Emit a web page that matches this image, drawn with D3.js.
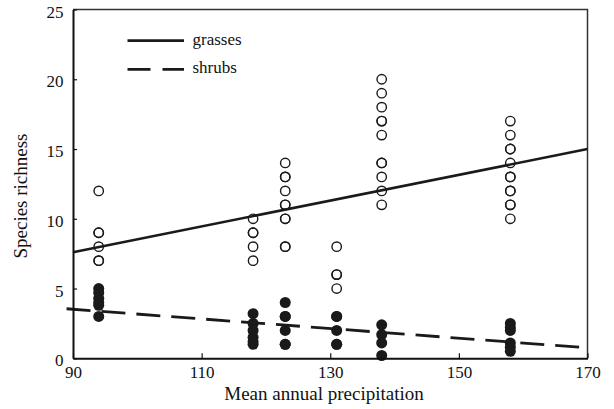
<!DOCTYPE html>
<html>
<head>
<meta charset="utf-8">
<script src="https://cdn.jsdelivr.net/npm/d3@7"></script>
<style>
  body { margin: 0; background: #fff; }
  svg { display: block; }
  svg text { font-family: "Liberation Serif", "Times New Roman", serif; }
</style>
</head>
<body>
<div id="chart"></div>
<script>
// precipitation sites (x) and richness values per site
const precip = [94, 118, 123, 131, 138, 158];
const grasses = [
    [12, 9, 9, 8, 7, 7],
    [10, 9, 9, 8, 7],
    [14, 13, 13, 12, 11, 11, 10, 10, 8, 8],
    [8, 6, 6, 5],
    [20, 19, 18, 17, 17, 16, 14, 14, 13, 12, 11],
    [17, 16, 15, 15, 14, 13, 13, 12, 12, 11, 11, 10]
];
const shrubs = [
    [5, 4.7, 4.3, 4, 3.8, 3],
    [3.2, 2.5, 2, 1.5, 1.2, 1],
    [4, 3, 3, 2, 1, 1],
    [3, 3, 2, 1, 1],
    [2.4, 1.7, 1.1, 0.2],
    [2.5, 2.2, 2, 1.1, 0.8, 0.5]
];
const grassesFit = [[90, 7.6], [170, 15]];
const shrubsFit = [[89, 3.55], [170, 0.75]];
const xTicks = [90, 110, 130, 150, 170];
const yTicks = [0, 5, 10, 15, 20, 25];

const width = 614, height = 409;
const plotLeft = 73, plotRight = 587.5, plotTop = 9.5, plotBottom = 358.3;
const serif = '"Liberation Serif", "Times New Roman", serif';

const svg = d3.select("#chart").append("svg")
    .attr("width", width)
    .attr("height", height);

const x = d3.scaleLinear().domain([90, 170]).range([plotLeft, plotRight]);
const y = d3.scaleLinear().domain([0, 25]).range([plotBottom, plotTop]);

// top / right frame
svg.append("path")
    .attr("d", `M${plotLeft},${plotTop}H${plotRight}V${plotBottom}`)
    .attr("fill", "none")
    .attr("stroke", "#333")
    .attr("stroke-width", 1.5);

// flatten points
const openPts = [], filledPts = [];
precip.forEach((p, i) => {
    grasses[i].forEach(v => openPts.push([p, v]));
    shrubs[i].forEach(v => filledPts.push([p, v]));
});

svg.append("g").selectAll("circle")
    .data(filledPts)
    .enter().append("circle")
    .attr("cx", d => x(d[0]))
    .attr("cy", d => y(d[1]))
    .attr("r", 5.5)
    .attr("fill", "#1a1a1a");

svg.append("g").selectAll("circle")
    .data(openPts)
    .enter().append("circle")
    .attr("cx", d => x(d[0]))
    .attr("cy", d => y(d[1]))
    .attr("r", 4.7)
    .attr("fill", "none")
    .attr("stroke", "#1a1a1a")
    .attr("stroke-width", 1.4);

const line = d3.line().x(d => x(d[0])).y(d => y(d[1]));

svg.append("path")
    .datum(grassesFit)
    .attr("d", line)
    .attr("fill", "none")
    .attr("stroke", "#1a1a1a")
    .attr("stroke-width", 2.6);

svg.append("path")
    .datum(shrubsFit)
    .attr("d", line)
    .attr("fill", "none")
    .attr("stroke", "#1a1a1a")
    .attr("stroke-width", 2.8)
    .attr("stroke-dasharray", "24,11");

// axes
const xAxis = svg.append("g")
    .attr("transform", `translate(0,${plotBottom})`)
    .call(d3.axisBottom(x).tickValues(xTicks).tickSize(-5).tickSizeOuter(0));
xAxis.select(".domain").attr("stroke", "#111").attr("stroke-width", 2);
xAxis.selectAll(".tick line").attr("stroke", "#111").attr("stroke-width", 1.2);
xAxis.selectAll(".tick text")
    .attr("y", 20)
    .attr("dy", null)
    .attr("fill", "#111")
    .style("font-family", serif)
    .style("font-size", "17px");

const yAxis = svg.append("g")
    .attr("transform", `translate(${plotLeft},0)`)
    .call(d3.axisLeft(y).tickValues(yTicks).tickSize(-4).tickSizeOuter(0));
yAxis.select(".domain").attr("stroke", "#111").attr("stroke-width", 2);
yAxis.selectAll(".tick line").attr("stroke", "#111").attr("stroke-width", 1.2);
yAxis.selectAll(".tick text")
    .attr("x", -9.5)
    .attr("dy", "0.45em")
    .attr("fill", "#111")
    .style("font-family", serif)
    .style("font-size", "17px");

// axis titles
svg.append("text")
    .attr("x", 324)
    .attr("y", 400)
    .attr("text-anchor", "middle")
    .attr("fill", "#111")
    .style("font-size", "19px")
    .text("Mean annual precipitation");

svg.append("text")
    .attr("transform", "translate(27,196) rotate(-90)")
    .attr("text-anchor", "middle")
    .attr("fill", "#111")
    .style("font-size", "19px")
    .text("Species richness");

// legend
const legendItems = [
    { label: "grasses", dash: null, y: 40.7 },
    { label: "shrubs", dash: "23,12", y: 69.3 }
];
const legend = svg.append("g");
legendItems.forEach(d => {
    legend.append("line")
        .attr("x1", 127.5).attr("x2", 184)
        .attr("y1", d.y).attr("y2", d.y)
        .attr("stroke", "#1a1a1a")
        .attr("stroke-width", 2.8)
        .attr("stroke-dasharray", d.dash);
    legend.append("text")
        .attr("x", 192.5)
        .attr("y", d.y + 4)
        .attr("fill", "#111")
        .style("font-size", "17px")
        .text(d.label);
});
</script>
</body>
</html>
